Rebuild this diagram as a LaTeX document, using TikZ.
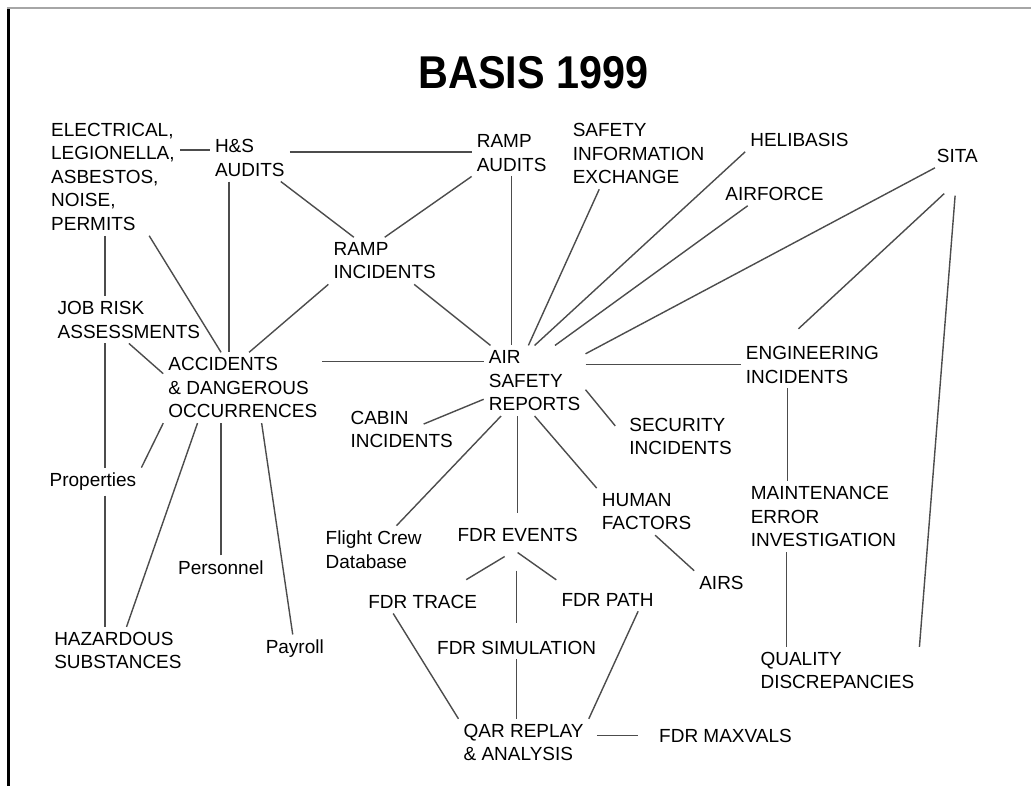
\documentclass[tikz,border=0pt]{standalone}
\usepackage{fontspec}
\setmainfont{Liberation Sans}

\begin{document}
\begin{tikzpicture}[ x=1pt, y=-1pt,
    topic/.style= {
        align=left,
        inner sep=5pt,
        text=black,
        font=\fontsize{19}{23.5}\selectfont
    },
    link/.style= {
        draw=black!70,
        line width=1.4pt
    } ]
    \fill [white] (0,0) rectangle (1032,787);
    \draw [line width=2.2pt] (8.5,7.5) -- (8.5,787);
    \draw [black!35, line width=1.5pt] (7.5,8) -- (1032,8);
    \node (title) at (534,73) {\fontsize{46}{50}\selectfont\bfseries\scalebox{0.9}[1]{BASIS 1999}};
    % left hand side
    \node[topic] (elec) at (113,177) {ELECTRICAL,\\LEGIONELLA,\\ASBESTOS,\\NOISE,\\PERMITS};
    \node[topic] (hs) at (250,158) {H\&S\\AUDITS};
    \node[topic] (jobrisk) at (129,320) {JOB RISK\\ASSESSMENTS};
    \node[topic] (accid) at (243,388) {ACCIDENTS\\\& DANGEROUS\\OCCURRENCES};
    \node[topic] (props) at (93,482) {Properties};
    \node[topic] (personnel) at (221,568) {Personnel};
    \node[topic] (payroll) at (295,649) {Payroll};
    \node[topic] (hazard) at (118,651) {HAZARDOUS\\SUBSTANCES};
    % middle
    \node[topic] (rampaud) at (512,153) {RAMP\\AUDITS};
    \node[topic] (rampinc) at (385,261) {RAMP\\INCIDENTS};
    \node[topic] (asr) at (535,381) {AIR\\SAFETY\\REPORTS};
    \node[topic] (cabin) at (402,430) {CABIN\\INCIDENTS};
    \node[topic] (fcdb) at (374,550) {Flight Crew\\Database};
    \node[topic] (fdrev) at (518,535) {FDR EVENTS};
    \node[topic] (fdrtrace) at (423,602) {FDR TRACE};
    \node[topic] (fdrpath) at (608,600) {FDR PATH};
    \node[topic] (fdrsim) at (517,648) {FDR SIMULATION};
    \node[topic] (qar) at (524,743) {QAR REPLAY\\\& ANALYSIS};
    \node[topic] (maxvals) at (726,736) {FDR MAXVALS};
    % right hand side
    \node[topic] (sie) at (639,154) {SAFETY\\INFORMATION\\EXCHANGE};
    \node[topic] (heli) at (800,140) {HELIBASIS};
    \node[topic] (airforce) at (775,194) {AIRFORCE};
    \node[topic] (sita) at (958,156) {SITA};
    \node[topic] (eng) at (813,365) {ENGINEERING\\INCIDENTS};
    \node[topic] (secur) at (681,437) {SECURITY\\INCIDENTS};
    \node[topic] (human) at (647,512) {HUMAN\\FACTORS};
    \node[topic] (airs) at (722,583) {AIRS};
    \node[topic] (mei) at (824,517) {MAINTENANCE\\ERROR\\INVESTIGATION};
    \node[topic] (quality) at (838,671) {QUALITY\\DISCREPANCIES};
    % links
    \draw [link] ([yshift=8pt]hs.west) -- ([yshift=8pt]hs.west -| elec.east);
    \draw [link] ([yshift=6pt]hs.east) -- ([yshift=6pt]hs.east -| rampaud.west);
    \draw [link] (hs) -- (rampinc);
    \draw [link] (rampaud.south west) -- (rampinc.north);
    \draw [link] ([xshift=-21pt]hs.south) -- ([xshift=-21pt]hs.south |- accid.north);
    \draw [link] (elec) -- (accid);
    \draw [link] ([xshift=-8pt]elec.south) -- ([xshift=-8pt]elec.south |- jobrisk.north);
    \draw [link] (jobrisk.south) -- (accid.170);
    \draw [link] ([xshift=12pt]props.north) -- ([xshift=12pt]props.north |- jobrisk.south);
    \draw [link] ([xshift=12pt]props.south) -- ([xshift=12pt]props.south |- hazard.north);
    \draw [link] (props.north east) -- (accid.south west);
    \draw [link] (accid.218) -- (hazard.70);
    \draw [link] (personnel.north) -- (personnel.north |- accid.south);
    \draw [link] (accid.-62) -- (payroll);
    \draw [link] (accid.80) -- (rampinc.south west);
    \draw [link] ([yshift=26pt]accid.east) -- ([yshift=26pt]accid.east -| asr.west);
    \draw [link] (rampinc) -- (asr);
    \draw [link] (rampaud.south) -- (rampaud.south |- asr.north);
    \draw [link] (sie.222) -- (asr.100);
    \draw [link] (heli.south west) -- (asr.north);
    \draw [link] (airforce.204) -- (asr.60);
    \draw [link] (sita) -- (asr);
    \draw [link, shorten <=38pt, shorten >=18pt] (sita.-39) -- (eng.139);
    \draw [link, shorten <=28pt] (sita.south) -- (quality.north east);
    \draw [link] (asr.east |- eng.west) -- (eng.west);
    \draw [link] ([xshift=-25pt]eng.south) -- ([xshift=-25pt]eng.south |- mei.north);
    \draw [link] ([xshift=-37pt]mei.south) -- ([xshift=-37pt]mei.south |- quality.north);
    \draw [link] (asr.200) -- ([xshift=22pt,yshift=-18pt]cabin.north);
    \draw [link, shorten >=14pt] (asr.-10) -- (secur.west);
    \draw [link] (asr) -- (fcdb);
    \draw [link, shorten >=10pt] (asr.south -| fdrev.north) -- (fdrev.north);
    \draw [link] (asr.south) -- (human.north west);
    \draw [link] ([xshift=-13pt,yshift=-10pt]fdrev.south) -- ([xshift=-16pt,yshift=10pt]fdrtrace.north east);
    \draw [link, shorten <=24pt, shorten >=13pt] (fdrev.south -| fdrsim.north) -- (fdrsim.north);
    \draw [link] ([yshift=-6pt]fdrev.south) -- ([yshift=8pt]fdrpath.north west);
    \draw [link] (fdrsim.south) -- (fdrsim.south |- qar.north);
    \draw [link] (fdrtrace.202) -- (qar.north west);
    \draw [link] (fdrpath.-21) -- (qar.north east);
    \draw [link, shorten <=8pt, shorten >=16pt] (qar.east |- maxvals.west) -- (maxvals.west);
    \draw [link] (human.-70) -- (airs.north west);
\end{tikzpicture}
\end{document}
